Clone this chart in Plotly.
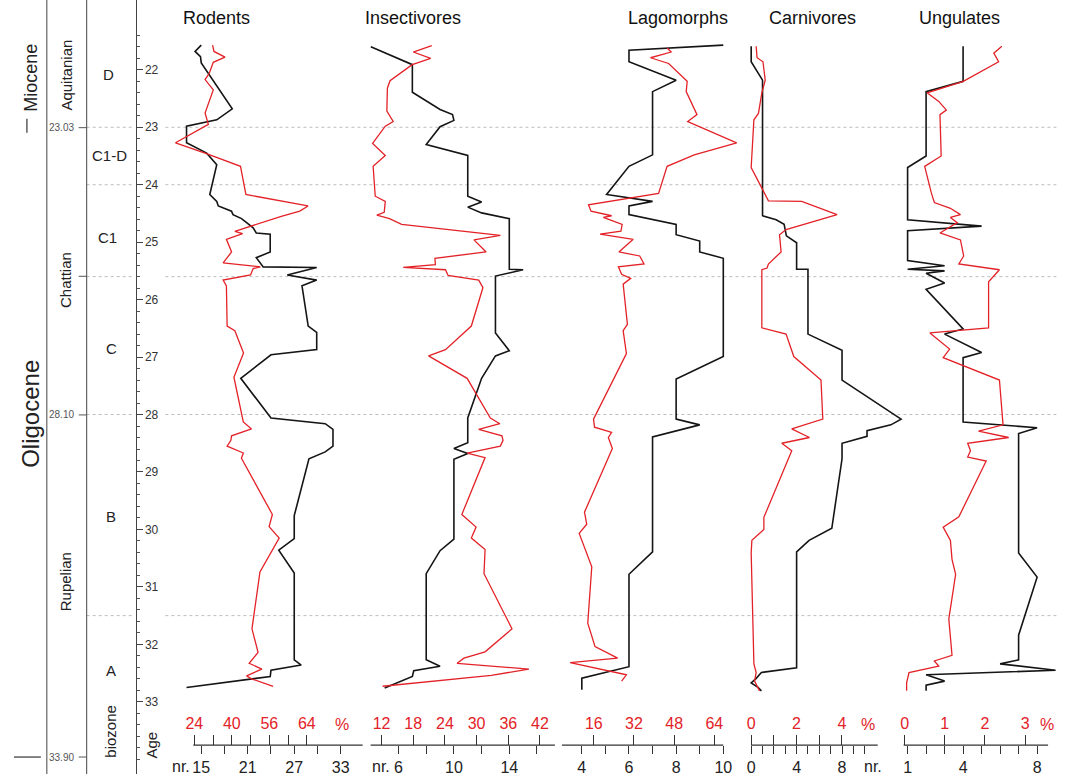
import plotly.graph_objects as go

W, H = 1065, 776

# ---------------- data (age in Ma) ----------------
rodents_nr_age = [21.57, 21.68, 21.77, 21.88, 22.68, 22.87, 22.98, 23.27, 23.45, 23.65, 24.17, 24.29, 24.37,
                  24.46, 24.52, 24.59, 24.75, 24.84, 24.86, 25.17, 25.27, 25.43, 25.44, 25.57, 25.66, 25.76,
                  26.46, 26.57, 26.87, 26.96, 27.37, 28.06, 28.16, 28.26, 28.55, 28.65, 28.77, 29.76, 30.16,
                  30.36, 30.76, 32.27, 32.36, 32.45, 32.56, 32.75]
rodents_nr = [15.0, 14.2, 14.9, 15.0, 19.0, 17.0, 13.1, 13.1, 15.7, 17.0, 16.1, 17.0, 17.2,
              18.9, 19.1, 20.2, 21.7, 22.1, 23.9, 23.9, 22.1, 23.0, 29.9, 26.1, 29.9, 28.0,
              28.8, 29.9, 29.9, 24.0, 20.1, 24.0, 31.0, 32.0, 32.0, 31.0, 28.9, 27.0, 27.0,
              25.0, 27.0, 27.0, 27.9, 24.0, 23.9, 13.1]
rodents_pct_age = [21.57, 21.68, 21.78, 21.87, 22.06, 22.17, 22.35, 22.75, 22.95, 23.27, 23.46, 23.68, 24.17,
                   24.37, 24.46, 24.55, 24.81, 24.85, 24.95, 25.17, 25.36, 25.43, 25.46, 25.57, 25.66, 25.76,
                   26.46, 26.54, 26.93, 27.35, 28.13, 28.25, 28.37, 28.45, 28.55, 28.67, 28.76, 29.74, 29.95,
                   30.15, 30.74, 31.73, 32.14, 32.33, 32.43, 32.55, 32.60, 32.73]
rodents_pct = [31.8, 32.4, 37.1, 32.1, 30.4, 28.6, 32.1, 28.6, 30.0, 16.0, 29.2, 43.7, 46.0,
               72.5, 69.0, 61.1, 41.3, 44.6, 37.7, 39.9, 36.3, 52.2, 49.1, 48.0, 36.3, 37.7,
               38.0, 41.3, 45.0, 40.9, 44.9, 48.4, 39.9, 39.6, 38.0, 44.9, 44.1, 57.3, 55.9,
               60.2, 52.0, 48.6, 51.2, 47.4, 52.8, 46.3, 48.4, 57.6]

insect_nr_age = [21.60, 21.91, 22.39, 22.69, 22.78, 22.88, 22.99, 23.30, 23.49, 24.20, 24.30, 24.39, 24.49,
                 24.59, 25.47, 25.48, 25.59, 26.58, 26.89, 26.98, 27.37, 28.06, 28.49, 28.59, 28.68, 28.78,
                 30.17, 30.37, 30.77, 32.27, 32.38, 32.46, 32.56, 32.76]
insect_nr = [4, 7, 7, 9, 9.9, 10, 9, 8, 11, 11, 12, 11, 12,
             14, 14, 15, 13, 13, 14, 13, 12, 11, 11, 10, 11, 10,
             10, 9, 8, 8, 9, 7.1, 7, 5]
insect_pct_age = [21.58, 21.69, 21.80, 21.91, 22.19, 22.32, 22.72, 22.90, 22.98, 23.28, 23.49, 23.68, 24.20,
                  24.29, 24.48, 24.53, 24.59, 24.69, 24.88, 24.96, 25.17, 25.28, 25.39, 25.44, 25.48, 25.58,
                  25.66, 25.79, 26.46, 26.87, 26.98, 27.37, 28.06, 28.16, 28.26, 28.37, 28.45, 28.55, 28.67,
                  28.75, 29.74, 29.96, 30.15, 30.35, 30.77, 31.73, 32.13, 32.24, 32.33, 32.43, 32.54, 32.73]
insect_pct = [21.5, 18.0, 21.3, 17.8, 13.6, 13.1, 13.0, 14.2, 12.7, 10.3, 12.7, 10.4, 10.8,
              12.7, 12.5, 11.1, 13.5, 15.8, 34.5, 29.5, 31.8, 22.1, 22.2, 16.1, 24.1, 24.6,
              30.4, 31.2, 29.0, 24.1, 20.9, 28.2, 32.6, 34.4, 30.4, 34.8, 35.0, 34.5, 28.2,
              31.6, 27.2, 29.9, 29.0, 31.6, 31.4, 36.7, 31.6, 27.6, 26.3, 39.9, 32.8, 12.2]

lago_nr_age = [21.57, 21.66, 21.86, 22.18, 22.38, 23.48, 23.68, 24.17, 24.29, 24.37, 24.52, 24.69, 24.87,
               24.98, 25.17, 25.28, 26.99, 27.38, 28.08, 28.18, 28.39, 30.39, 30.78, 32.39, 32.59, 32.79]
lago_nr = [10, 6, 6, 8, 7, 7, 6, 5.05, 7, 6, 6, 8, 8,
           9, 9, 10, 10, 8, 8, 9, 7, 7, 6, 6, 4, 4]
lago_pct_age = [21.62, 21.69, 21.79, 21.89, 22.20, 22.38, 22.78, 22.90, 23.27, 23.48, 23.68, 24.15, 24.35,
                24.46, 24.54, 24.57, 24.69, 24.81, 24.86, 24.95, 25.17, 25.24, 25.38, 25.43, 25.56, 25.63,
                25.73, 26.43, 26.54, 26.94, 28.08, 28.22, 28.31, 28.40, 28.59, 29.70, 29.91, 30.07, 30.65,
                31.63, 32.04, 32.24, 32.32, 32.53, 32.64]
lago_pct = [45.2, 46.8, 38.6, 45.8, 53.2, 52.8, 57.1, 53.4, 72.9, 56.0, 45.2, 41.8, 13.9,
            14.9, 23.1, 19.8, 27.3, 26.8, 18.5, 31.7, 26.0, 34.3, 36.0, 25.8, 27.1, 30.7,
            27.7, 29.4, 27.7, 29.0, 15.9, 16.3, 23.1, 21.8, 23.4, 12.3, 13.2, 10.2, 15.2,
            13.6, 16.5, 25.5, 6.6, 29.0, 27.1]

carn_nr_age = [21.59, 21.86, 22.18, 24.54, 24.61, 24.69, 24.89, 25.01, 25.47, 25.47, 26.60, 26.88, 27.40,
               28.08, 28.18, 28.28, 28.38, 28.50, 28.77, 29.98, 30.19, 30.39, 32.41, 32.49, 32.60, 32.67,
               32.75, 32.81]
carn_nr = [0, 0, 1, 1, 2.2, 2.9, 3.1, 4, 4, 5, 5, 8, 8,
           13.2, 12.3, 10.2, 10.2, 8, 8, 7.1, 5.1, 4, 4, 0.9, 0.4, 0,
           0.6, 0.9]
carn_pct_age = [21.59, 21.79, 21.86, 22.18, 22.40, 22.76, 22.87, 23.70, 24.28, 24.29, 24.52, 24.78, 24.87,
                25.17, 25.38, 25.45, 25.48, 26.49, 26.60, 26.99, 27.40, 28.08, 28.25, 28.40, 28.50, 28.63,
                29.79, 30.00, 30.19, 30.41, 32.34, 32.49, 32.64, 32.81]
carn_pct = [0.22, 0.26, 0.52, 0.62, 0.47, 0.32, 0.12, 0.0, 0.76, 2.23, 3.79, 1.54, 1.25,
            1.32, 0.76, 0.70, 0.47, 0.47, 1.54, 1.88, 3.08, 3.16, 1.79, 2.57, 1.35, 1.79,
            0.56, 0.56, 0.03, 0.0, 0.12, 0.22, 0.15, 0.37]

ung_nr_age = [21.59, 22.20, 22.38, 23.50, 23.70, 24.61, 24.72, 24.80, 25.32, 25.41, 25.47, 25.50, 25.54,
              25.71, 25.82, 26.51, 26.60, 26.92, 27.01, 28.13, 28.23, 28.33, 30.41, 30.83, 31.84, 32.27,
              32.34, 32.45, 32.53, 32.64, 32.71, 32.81]
ung_nr = [4, 4, 2, 2, 1, 1, 5, 1, 1, 3, 1, 3, 2,
          3, 2, 4, 3, 5, 4, 4, 8, 7, 7, 8, 7, 7,
          6, 9, 2, 3, 2, 2]
ung_pct_age = [21.59, 21.71, 21.86, 22.20, 22.40, 22.55, 22.70, 22.78, 23.50, 23.68, 24.13, 24.31, 24.41,
               24.52, 24.57, 24.66, 24.84, 24.96, 25.24, 25.38, 25.48, 25.69, 26.49, 26.58, 26.86, 27.01,
               27.40, 28.18, 28.29, 28.40, 28.50, 28.63, 28.74, 28.81, 29.78, 29.96, 30.19, 30.52, 30.78,
               31.56, 32.19, 32.29, 32.38, 32.49, 32.67, 32.81]
ung_pct = [2.42, 2.22, 2.34, 1.46, 0.56, 0.85, 1.04, 0.88, 0.91, 0.50, 0.66, 0.74, 1.14,
           1.39, 1.14, 1.31, 0.88, 1.39, 1.47, 1.35, 2.36, 2.09, 2.09, 0.63, 1.12, 0.96,
           2.36, 2.45, 1.84, 2.59, 1.57, 1.64, 1.57, 2.03, 1.35, 0.96, 1.14, 1.18, 1.27,
           1.10, 1.18, 0.74, 0.85, 0.11, 0.05, 0.05]

# tick values / labels
age_ticks = list(range(22, 34))
boundary_ages = [23.0, 24.0, 25.6, 28.0, 31.5]

rodents_nr_ticks = [15, 18, 21, 24, 27, 30, 33]
rodents_nr_text = ["15", "", "21", "", "27", "", "33"]
rodents_pct_ticks = [24, 32, 40, 48, 56, 64, 72]
rodents_pct_text = ["24", "", "40", "", "56", "", "64"]
insect_nr_ticks = [6, 8, 10, 12, 14, 16]
insect_nr_text = ["6", "", "10", "", "14", ""]
insect_pct_ticks = [12, 18, 24, 30, 36, 42]
insect_pct_text = ["12", "18", "24", "30", "36", "42"]
lago_nr_ticks = [4, 5, 6, 7, 8, 9, 10]
lago_nr_text = ["4", "", "6", "", "8", "", "10"]
lago_pct_ticks = [16, 32, 48, 64]
lago_pct_text = ["16", "32", "48", "64"]
carn_nr_ticks = list(range(0, 11))
carn_nr_text = ["0", "", "", "", "4", "", "", "", "8", "", ""]
carn_pct_ticks = [0, 1, 2, 3, 4]
carn_pct_text = ["0", "", "2", "", "4"]
ung_nr_ticks = list(range(1, 9))
ung_nr_text = ["1", "", "", "4", "", "", "", "8"]
ung_pct_ticks = [0, 1, 2, 3]
ung_pct_text = ["0", "1", "2", "3"]

# ---------------- layout geometry (pixels) ----------------
RED = "#e32228"
BLK = "#151515"
FONT = "Liberation Sans, Arial, sans-serif"
AX_Y = 747  # pixel row of the bottom scale bars

panels = [
    dict(title="Rodents", tx=213, dom=(165, 363), bar=(190, 360),
         nr_cal=(15, 198, 33, 338), pct_cal=(24, 191, 72, 304),
         nr=(rodents_nr_age, rodents_nr, rodents_nr_ticks, rodents_nr_text),
         pct=(rodents_pct_age, rodents_pct, rodents_pct_ticks, rodents_pct_text)),
    dict(title="Insectivores", tx=411, dom=(363, 556), bar=(368, 553),
         nr_cal=(6, 396, 16, 535), pct_cal=(12, 379, 42, 538),
         nr=(insect_nr_age, insect_nr, insect_nr_ticks, insect_nr_text),
         pct=(insect_pct_age, insect_pct, insect_pct_ticks, insect_pct_text)),
    dict(title="Lagomorphs", tx=677, dom=(556, 746), bar=(560, 722),
         nr_cal=(4, 580, 10, 722), pct_cal=(16, 592, 64, 713),
         nr=(lago_nr_age, lago_nr, lago_nr_ticks, lago_nr_text),
         pct=(lago_pct_age, lago_pct, lago_pct_ticks, lago_pct_text)),
    dict(title="Carnivores", tx=812, dom=(746, 904), bar=(750, 877),
         nr_cal=(0, 750, 10, 864), pct_cal=(0, 750, 4, 841),
         nr=(carn_nr_age, carn_nr, carn_nr_ticks, carn_nr_text),
         pct=(carn_pct_age, carn_pct, carn_pct_ticks, carn_pct_text)),
    dict(title="Ungulates", tx=959, dom=(904, 1062), bar=(903, 1048),
         nr_cal=(1, 907, 8, 1037), pct_cal=(0, 904, 3, 1025),
         nr=(ung_nr_age, ung_nr, ung_nr_ticks, ung_nr_text),
         pct=(ung_pct_age, ung_pct, ung_pct_ticks, ung_pct_text)),
]


def fx(px):
    return px / W


def fy(py):
    return 1 - py / H


def cal_range(cal, dom):
    v1, p1, v2, p2 = cal
    k = (v2 - v1) / (p2 - p1)
    return [v1 + (dom[0] - p1) * k, v1 + (dom[1] - p1) * k]


def label(text, px, py, size, color="#222", angle=0, xanchor="center"):
    return dict(text=text, x=fx(px), y=fy(py), xref="paper", yref="paper", showarrow=False,
                xanchor=xanchor, yanchor="middle", textangle=angle,
                font=dict(size=size, color=color, family=FONT))


# age scale: 22 Ma at y=70 px, 57.6 px per Ma
AGE_TOP = 22 - 70 / 57.6
AGE_BOT = 22 + (H - 70) / 57.6

fig = go.Figure()
layout = dict(
    width=W, height=H, margin=dict(l=0, r=0, t=0, b=0, pad=0),
    paper_bgcolor="white", plot_bgcolor="rgba(0,0,0,0)",
    showlegend=False, font=dict(family=FONT, color="#222"),
)

minor_vals = [round(21.4 + 0.2 * i, 1) for i in range(64)]
layout["yaxis"] = dict(
    domain=[0, 1], range=[AGE_BOT, AGE_TOP], anchor="free", position=fx(132), side="right",
    showline=True, linecolor="#444", linewidth=1, ticks="outside", ticklen=6, tickcolor="#444",
    tickvals=age_ticks, ticktext=[str(v) for v in age_ticks],
    tickfont=dict(size=12, color="#333", family=FONT),
    minor=dict(ticks="outside", ticklen=3, tickcolor="#555", tickmode="array", tickvals=minor_vals),
    showgrid=False, zeroline=False, fixedrange=True,
)

shapes = []
annotations = []

for i, p in enumerate(panels):
    bn = 2 * i + 1
    rn = 2 * i + 2
    bkey = "xaxis" if bn == 1 else f"xaxis{bn}"
    bref = "x" if bn == 1 else f"x{bn}"
    rkey = f"xaxis{rn}"
    rref = f"x{rn}"
    dom = [fx(p["dom"][0]), fx(p["dom"][1])]
    age_n, val_n, tv_n, tt_n = p["nr"]
    age_p, val_p, tv_p, tt_p = p["pct"]
    layout[bkey] = dict(
        domain=dom, range=cal_range(p["nr_cal"], p["dom"]), anchor="free", position=fy(AX_Y),
        side="bottom", showline=False, ticks="outside", ticklen=8, tickwidth=1.2, tickcolor="#333",
        tickvals=tv_n, ticktext=tt_n, tickfont=dict(size=16, color="#222", family=FONT),
        showgrid=False, zeroline=False, fixedrange=True,
    )
    layout[rkey] = dict(
        domain=dom, range=cal_range(p["pct_cal"], p["dom"]), anchor="free", position=fy(AX_Y),
        overlaying=bref, side="top", showline=False, ticks="outside", ticklen=10, tickwidth=1.2,
        tickcolor="#333", tickvals=tv_p, ticktext=tt_p, tickfont=dict(size=16, color=RED, family=FONT),
        showgrid=False, zeroline=False, fixedrange=True,
    )
    fig.add_trace(go.Scatter(x=val_n, y=age_n, mode="lines", xaxis=bref, yaxis="y",
                             line=dict(color=BLK, width=1.6), hoverinfo="skip"))
    fig.add_trace(go.Scatter(x=val_p, y=age_p, mode="lines", xaxis=rref, yaxis="y",
                             line=dict(color=RED, width=1.3), hoverinfo="skip"))
    # scale bar line
    shapes.append(dict(type="line", xref="paper", yref="paper", x0=fx(p["bar"][0]), x1=fx(p["bar"][1]),
                       y0=fy(AX_Y), y1=fy(AX_Y), line=dict(color="#333", width=1.3)))
    annotations.append(label(p["title"], p["tx"], 18, 18, "#111"))

# unit labels on the scale bars
for txt, px, py, col in [("nr.", 178, 768, "#222"), ("nr.", 378, 768, "#222"), ("nr.", 872, 768, "#222"),
                         ("%", 339, 726, RED), ("%", 867, 726, RED), ("%", 1047, 726, RED)]:
    annotations.append(label(txt, px, py, 16, col))

# dashed boundary lines
for a in boundary_ages:
    for x0, x1 in [(83, 131), (162, 1057)]:
        shapes.append(dict(type="line", xref="paper", yref="y", x0=fx(x0), x1=fx(x1), y0=a, y1=a,
                           line=dict(color="#bdbdbd", width=1, dash="dot"), layer="below"))

# column separators
for xp in (43, 83):
    shapes.append(dict(type="line", xref="paper", yref="paper", x0=fx(xp), x1=fx(xp), y0=0, y1=1,
                       line=dict(color="#444", width=1)))
# stage boundary ticks
for yp in (128, 277, 416, 759):
    shapes.append(dict(type="line", xref="paper", yref="paper", x0=fx(75), x1=fx(83), y0=fy(yp), y1=fy(yp),
                       line=dict(color="#555", width=1)))
# epoch boundary marks
shapes.append(dict(type="line", xref="paper", yref="paper", x0=fx(23), x1=fx(23), y0=fy(119), y1=fy(133),
                   line=dict(color="#333", width=1.2)))
shapes.append(dict(type="line", xref="paper", yref="paper", x0=fx(10), x1=fx(37), y0=fy(759), y1=fy(759),
                   line=dict(color="#333", width=1.2)))

for txt, yp in [("23.03", 128), ("28.10", 416), ("33.90", 759)]:
    annotations.append(label(txt, 72, yp, 10, "#555", xanchor="right"))

# rotated column labels
for txt, px, py, size in [("Miocene", 27, 78, 18), ("Oligocene", 27, 415, 24),
                          ("Aquitanian", 63, 75, 15), ("Chattian", 62, 281, 15), ("Rupelian", 62, 583, 15),
                          ("biozone", 107, 733, 15), ("Age", 148, 747, 15)]:
    annotations.append(label(txt, px, py, size, "#222", angle=-90))

for txt, px, py in [("D", 105, 75), ("C1-D", 106, 156), ("C1", 104, 238), ("C", 108, 349),
                    ("B", 107, 518), ("A", 107, 672)]:
    annotations.append(label(txt, px, py, 15))

layout["shapes"] = shapes
layout["annotations"] = annotations
fig.update_layout(**layout)
fig.write_html("out.html", config={"displayModeBar": False},
               post_script="document.body.style.margin='0px';")
